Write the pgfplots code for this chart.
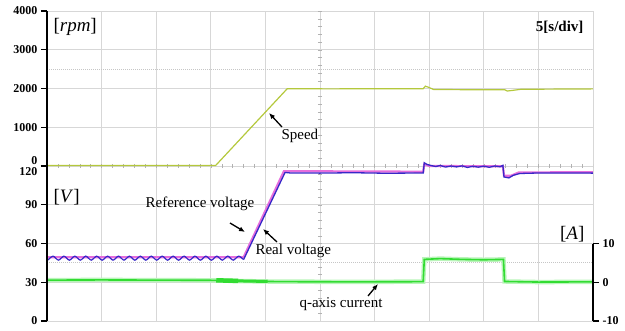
\documentclass[border=0pt]{standalone}
\usepackage{pgfplots}
\pgfplotsset{compat=1.18}
\usepackage{fontspec}
\setmainfont{Liberation Serif}
\usetikzlibrary{arrows.meta}

\definecolor{spd}{RGB}{180,200,60}
\definecolor{vref}{RGB}{230,110,220}
\definecolor{vreal}{RGB}{55,40,200}
\definecolor{iq}{RGB}{50,220,50}
\definecolor{iqhalo}{RGB}{185,245,185}
\definecolor{gridc}{RGB}{215,215,215}

\pgfplotsset{
  base/.style={width=546pt,height=310pt,scale only axis,xmin=0,xmax=50,
    at={(0pt,0pt)},anchor=south west},
  lab/.style={font=\fontsize{12}{12}\selectfont\bfseries},
}

\begin{document}
\begin{tikzpicture}
\useasboundingbox (-47pt,-9pt) rectangle (578pt,321pt);

% grid / graticule
\begin{axis}[base, ymin=0, ymax=8,
  xtick={0,5,...,50}, ytick={0,1,...,8},
  xticklabels={}, yticklabels={},
  grid=major, grid style={gridc,line width=0.8pt},
  major tick length=0pt,
  axis line style={gridc,line width=0.8pt}]
  \draw[gray!45,densely dotted,line width=1pt] (axis cs:0,6.5) -- (axis cs:50,6.5);
  \draw[gray!45,densely dotted,line width=1pt] (axis cs:0,1.5) -- (axis cs:50,1.5);
  \pgfplotsinvokeforeach{0,1,...,50}{\draw[gray!60] (axis cs:#1,3.95) -- (axis cs:#1,4.05);}
  \pgfplotsinvokeforeach{0,0.2,...,8}{\draw[gray!60] (axis cs:24.8,#1) -- (axis cs:25.2,#1);}
\end{axis}

% current axis (right)
\begin{axis}[base, ymin=-10, ymax=70,
  axis x line=none, axis y line*=right, y axis line style={draw=none},
  ytick={-10,0,10}, yticklabels={-10,0,10},
  tick align=outside, major tick length=6pt,
  ytick style={black,line width=1.1pt},
  yticklabel style={lab}]
  \addplot[iqhalo, line width=4.5pt, no marks] coordinates {
    (0,0.55)(5,0.6)(10,0.55)(15.4,0.5)(17,0.35)(20,0.2)(22,0.15)(28,0.1)(34.45,0.15)
    (34.55,5.9)(36,6.1)(38,5.9)(40,5.8)(41.8,5.9)(41.9,0.2)(45,0.05)(50,0.1)};
  \addplot[iq, line width=1.6pt, no marks] coordinates {
    (0,0.55)(5,0.6)(10,0.55)(15.4,0.5)(17,0.35)(20,0.2)(22,0.15)(28,0.1)(34.45,0.15)
    (34.55,5.9)(36,6.1)(38,5.9)(40,5.8)(41.8,5.9)(41.9,0.2)(45,0.05)(50,0.1)};
  \addplot[iq, line width=4.5pt, no marks] coordinates {(15.5,0.5)(17.5,0.35)};
  \addplot[iq, line width=3pt, no marks] coordinates {(17.5,0.35)(20.2,0.2)};
\end{axis}

% speed axis (left, upper half)
\begin{axis}[base, ymin=-4000, ymax=4000,
  axis x line=none, axis y line*=left, y axis line style={draw=none},
  ytick={1000,2000,3000,4000},
  yticklabels={1000,2000,3000,4000},
  extra y ticks={0}, extra y tick labels={0},
  extra y tick style={yticklabel style={yshift=5pt,inner ysep=0.5pt}},
  tick align=outside, major tick length=6pt,
  ytick style={black,line width=1.1pt},
  yticklabel style={lab}]
  \addplot[spd, line width=1.2pt, no marks] coordinates {
    (0,15)(15.45,15)(22.0,1995)(26,1990)(30,1995)(34.45,1995)(34.65,2060)(34.95,2030)
    (35.4,1975)(38,1970)(41.9,1970)(42.15,1935)(42.6,1950)(43.4,1980)(50,1990)};
\end{axis}

% voltage axis (left, lower half)
\begin{axis}[base, ymin=0, ymax=240,
  axis x line=none, axis y line*=left, y axis line style={draw=none},
  ytick={0,30,60,90},
  yticklabels={0,30,60,90},
  extra y ticks={120}, extra y tick labels={120},
  extra y tick style={yticklabel style={yshift=-6pt,inner ysep=0.5pt}},
  tick align=outside, major tick length=6pt,
  ytick style={black,line width=1.1pt},
  yticklabel style={lab}]
  \addplot[vref, line width=2.2pt, no marks] coordinates {
    (0,49.3)(18.0,49.3)(21.7,116)(34.45,115.6)(34.55,121.5)(35,120)(41.75,119.8)
    (41.85,112.5)(42.5,112.5)(43.2,115)(50,115.2)};
  \addplot[vreal, line width=1.2pt, no marks, smooth] coordinates {
    (0,48.0)(0.05,47.1)(0.55,50.2)(1.05,47.1)(1.55,50.2)(2.05,47.1)(2.55,50.2)(3.05,47.1)
    (3.55,50.2)(4.05,47.1)(4.55,50.2)(5.05,47.1)(5.55,50.2)(6.05,47.1)(6.55,50.2)(7.05,47.1)
    (7.55,50.2)(8.05,47.1)(8.55,50.2)(9.05,47.1)(9.55,50.2)(10.05,47.1)(10.55,50.2)(11.05,47.1)
    (11.55,50.2)(12.05,47.1)(12.55,50.2)(13.05,47.1)(13.55,50.2)(14.05,47.1)(14.55,50.2)(15.05,47.1)
    (15.55,50.2)(16.05,47.1)(16.55,50.2)(17.05,47.1)(17.55,50.2)(18.0,47.5)};
  \addplot[vreal, line width=1.3pt, no marks] coordinates {
    (18.0,47.5)(21.8,115)(22.3,114.6)(25,114.5)(28,114.8)(31,114.4)(34.45,114.6)
    (34.55,122.5)(34.8,121.2)(35.2,120.3)(35.6,119.6)(36,120.4)(36.5,119.2)(37,120)
    (37.5,119.3)(38,120.1)(38.5,118.9)(39,119.8)(39.5,119.1)(40,119.9)(40.5,119.0)
    (41,120)(41.5,119.4)(41.75,120.5)(41.85,111.5)(42.3,110.8)(42.7,112.8)(43.3,114.2)
    (45,114.6)(50,114.5)};
\end{axis}

% axis lines
\draw[black,line width=1.6pt] (0pt,0pt) -- (0pt,310pt);
\draw[black,line width=1.3pt] (546pt,0pt) -- (546pt,77.5pt);

% texts
\node[anchor=west,font=\fontsize{19}{19}\selectfont] at (3pt,294pt) {[\textit{rpm}]};
\node[anchor=east,font=\fontsize{15}{15}\selectfont\bfseries] at (540pt,294pt) {5[s/div]};
\node[anchor=west,font=\fontsize{19}{19}\selectfont] at (3pt,124pt) {[\textit{V}]};
\node[anchor=east,font=\fontsize{19}{19}\selectfont] at (541pt,87pt) {[\textit{A}]};

\node[anchor=west,font=\fontsize{15}{15}\selectfont] at (231pt,185pt) {Speed};
\node[font=\fontsize{15}{15}\selectfont] at (153pt,117pt) {Reference voltage};
\node[anchor=west,font=\fontsize{15}{15}\selectfont] at (205pt,70pt) {Real voltage};
\node[anchor=west,font=\fontsize{15}{15}\selectfont] at (249pt,17pt) {q-axis current};

\draw[-{Latex[length=6pt,width=5pt]},line width=1.3pt] (235pt,194pt) -- (222pt,208pt);
\draw[-{Latex[length=6pt,width=5pt]},line width=1.3pt] (183pt,98pt) -- (198pt,89pt);
\draw[-{Latex[length=6pt,width=5pt]},line width=1.3pt] (230pt,79pt) -- (216pt,92pt);
\draw[-{Latex[length=6pt,width=5pt]},line width=1.3pt] (321pt,25pt) -- (331pt,37pt);
\end{tikzpicture}
\end{document}
